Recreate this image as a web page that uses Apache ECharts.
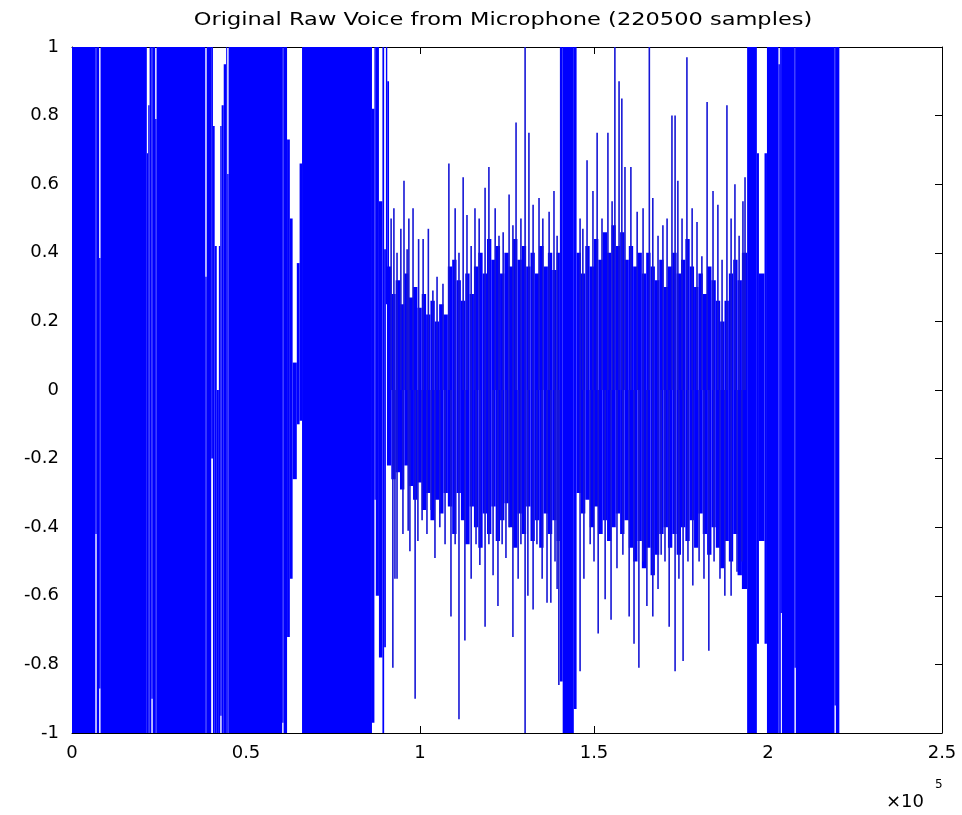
<!DOCTYPE html>
<html lang="en">
<head>
    <meta charset="UTF-8">
    <title>raw voice</title>
    <script src="https://cdn.jsdelivr.net/npm/echarts@6/dist/echarts.min.js"></script>
    <style>
        html, body { margin: 0; padding: 0; background: #fff; }
        #box { width: 962px; height: 815px; }
    </style>
</head>
<body>
    <div id="box"></div>
    <script>
        var xTickLabels = ['0', '0.5', '1', '1.5', '2', '2.5'];
        var yTickLabels = ['-1', '-0.8', '-0.6', '-0.4', '-0.2', '0', '0.2', '0.4', '0.6', '0.8', '1'];

        // loud parts: [fromSample, toSample, low, high]
        var blocks = [
            [0, 6700, -1, 1], [6700, 7100, -0.42, 1], [7100, 7800, -1, 1], [7800, 8200, -0.87, 0.385],
            [8200, 21500, -1, 1], [21500, 21900, -1, 0.69], [21900, 22300, -1, 0.83], [22300, 22800, -1, 1],
            [22800, 23200, -0.90, 1], [23200, 23900, -1, 1], [23900, 24300, -1, 0.79], [24300, 38300, -1, 1],
            [38300, 38700, -1, 0.33], [38700, 40000, -1, 1], [40000, 40500, -0.20, 1], [40500, 41000, -1, 0.77],
            [41000, 41600, -1, 0.42], [41600, 42200, -1, 0.0], [42200, 42600, -1, 0.42], [42600, 43000, -0.95, 0.77],
            [43000, 43600, -1, 0.83], [43600, 44300, -1, 0.95], [44300, 44600, -1, 1], [44600, 45000, -1, 0.63],
            [45000, 60400, -1, 1], [60400, 60800, -0.97, 1], [60800, 61800, -1, 1],
            [61800, 62600, -0.72, 0.73], [62600, 63400, -0.55, 0.50], [63400, 64600, -0.26, 0.08],
            [64600, 65400, -0.10, 0.37], [65400, 66100, -0.09, 0.66],
            [66100, 86200, -1, 1], [86200, 86900, -0.97, 0.82], [86900, 87300, -0.32, 1], [87300, 88200, -0.6, 1],
            [88200, 89200, -0.78, 0.55], [89200, 89700, -1, 1], [89700, 90200, -0.75, 0.41],
            [90200, 90600, 0.25, 1], [90600, 91100, -0.18, 0.9],
            [140200, 141000, -0.85, 1], [141000, 144200, -1, 1], [144200, 145000, -0.93, 1],
            [194000, 196800, -1, 1], [196800, 197400, -0.74, 0.69], [197400, 199000, -0.44, 0.34],
            [199000, 199700, -0.74, 0.69], [199700, 203000, -1, 1], [203000, 203400, -1, 0.95],
            [203400, 203600, -1, 1], [203600, 204000, -0.65, 1], [204000, 207600, -1, 1],
            [207600, 208000, -0.81, 1], [208000, 219100, -1, 1], [219100, 219500, -0.92, 1], [219500, 220500, -1, 1]
        ];

        // quiet parts: solid middle band, one step every 1250 samples (null = loud part)
        var coreX = [
            90500, 91750, 93000, 94250, 95500, 96750, 98000, 99250, 100500, 101750,
            103000, 104250, 105500, 106750, 108000, 109250, 110500, 111750, 113000, 114250,
            115500, 116750, 118000, 119250, 120500, 121750, 123000, 124250, 125500, 126750,
            128000, 129250, 130500, 131750, 133000, 134250, 135500, 136750, 138000, 139250, 140200,
            145000, 146250, 147500, 148750, 150000, 151250, 152500, 153750, 155000, 156250,
            157500, 158750, 160000, 161250, 162500, 163750, 165000, 166250, 167500, 168750,
            170000, 171250, 172500, 173750, 175000, 176250, 177500, 178750, 180000, 181250,
            182500, 183750, 185000, 186250, 187500, 188750, 190000, 191250, 192500, 194000
        ];
        var coreHi = [
            0.36, 0.28, 0.32, 0.25, 0.34, 0.27, 0.30, 0.24, 0.28, 0.22,
            0.26, 0.20, 0.25, 0.22, 0.36, 0.38, 0.32, 0.26, 0.34, 0.28,
            0.36, 0.40, 0.34, 0.44, 0.38, 0.42, 0.34, 0.40, 0.36, 0.44,
            0.38, 0.42, 0.36, 0.40, 0.34, 0.42, 0.36, 0.40, 0.35, 0.40, null,
            0.40, 0.34, 0.42, 0.36, 0.44, 0.38, 0.46, 0.40, 0.48, 0.42,
            0.46, 0.38, 0.42, 0.36, 0.40, 0.34, 0.40, 0.36, 0.32, 0.38,
            0.30, 0.36, 0.40, 0.34, 0.38, 0.44, 0.36, 0.30, 0.34, 0.28,
            0.36, 0.32, 0.26, 0.20, 0.26, 0.34, 0.38, 0.32, 0.40, null
        ];
        var coreLo = [
            -0.22, -0.26, -0.24, -0.29, -0.22, -0.28, -0.32, -0.27, -0.35, -0.30,
            -0.38, -0.32, -0.36, -0.30, -0.34, -0.42, -0.30, -0.38, -0.45, -0.34,
            -0.40, -0.46, -0.36, -0.42, -0.34, -0.44, -0.38, -0.33, -0.40, -0.46,
            -0.36, -0.42, -0.34, -0.44, -0.38, -0.46, -0.36, -0.42, -0.38, -0.44, null,
            -0.30, -0.36, -0.32, -0.40, -0.34, -0.42, -0.38, -0.44, -0.40, -0.36,
            -0.42, -0.38, -0.46, -0.50, -0.44, -0.52, -0.46, -0.54, -0.48, -0.42,
            -0.40, -0.46, -0.42, -0.48, -0.40, -0.44, -0.38, -0.46, -0.36, -0.42,
            -0.48, -0.40, -0.46, -0.52, -0.44, -0.50, -0.42, -0.54, -0.58, null
        ];

        // quiet parts: single peaks above and below zero [sample, value]
        var peaksUp = [
            [91700, 0.50], [92500, 0.53], [93400, 0.40], [94500, 0.47], [95400, 0.61], [96300, 0.41],
            [96800, 0.50], [98000, 0.53], [99600, 0.44], [100900, 0.44], [102400, 0.47], [103700, 0.29],
            [104900, 0.33], [106600, 0.31], [108300, 0.66], [110100, 0.53], [111200, 0.40], [112400, 0.62],
            [113500, 0.51], [114700, 0.42], [115800, 0.53], [117000, 0.50], [118700, 0.59], [119800, 0.65],
            [121600, 0.53], [122700, 0.45], [123900, 0.46], [125600, 0.57], [126700, 0.48], [127600, 0.78],
            [129000, 0.50], [130200, 1.0], [131300, 0.75], [132500, 0.54], [134200, 0.56], [135300, 0.50],
            [137100, 0.52], [138500, 0.58], [139400, 0.45],
            [146000, 0.50], [146800, 0.47], [148000, 0.67], [149700, 0.58], [150900, 0.75], [152300, 0.50],
            [154000, 0.75], [155200, 0.55], [156000, 1.0], [157200, 0.90], [158000, 0.85], [158900, 0.65],
            [160600, 0.65], [162400, 0.52], [164100, 0.53], [165900, 1.0], [166900, 0.56], [168400, 0.45],
            [169800, 0.48], [171000, 0.50], [172400, 0.80], [173300, 0.80], [174100, 0.61], [175300, 0.50],
            [176700, 0.97], [178200, 0.53], [179600, 0.49], [181000, 0.39], [182500, 0.84], [184200, 0.58],
            [185600, 0.54], [186800, 0.38], [188200, 0.83], [189400, 0.50], [190500, 0.60], [191700, 0.45],
            [192800, 0.55], [193400, 0.62]
        ];
        var peaksDown = [
            [92200, -0.81], [92800, -0.55], [93400, -0.55], [95100, -0.42], [96600, -0.41], [97100, -0.47],
            [98600, -0.90], [99400, -0.44], [100600, -0.38], [102000, -0.42], [103200, -0.35], [104300, -0.49],
            [105700, -0.40], [107200, -0.45], [108900, -0.66], [110100, -0.45], [111200, -0.96], [112900, -0.73],
            [114700, -0.55], [116100, -0.45], [117200, -0.51], [118700, -0.69], [119800, -0.45], [121000, -0.54],
            [122400, -0.63], [123600, -0.45], [124700, -0.49], [125600, -0.40], [126700, -0.72], [128200, -0.55],
            [129000, -0.45], [130200, -1.0], [131000, -0.60], [132500, -0.64], [133600, -0.45], [135100, -0.55],
            [136500, -0.62], [137600, -0.62], [138800, -0.50], [139400, -0.58], [139900, -0.86],
            [146000, -0.82], [147100, -0.55], [148900, -0.45], [150000, -0.50], [151200, -0.71], [153200, -0.61],
            [154900, -0.67], [156600, -0.52], [158300, -0.48], [160100, -0.66], [161500, -0.74], [162900, -0.81],
            [164100, -0.50], [165200, -0.63], [166900, -0.66], [168400, -0.58], [169300, -0.48], [170400, -0.50],
            [171600, -0.69], [173300, -0.82], [174400, -0.55], [175600, -0.79], [177000, -0.50], [178400, -0.57],
            [180200, -0.50], [181600, -0.55], [183000, -0.76], [184500, -0.50], [186200, -0.55], [187600, -0.60],
            [189400, -0.60], [191100, -0.53], [192500, -0.50]
        ];

        var blue = '#0000ff';
        var lineBlue = '#1616d6';

        var coreSpans = [];
        for (var i = 0; i < coreX.length - 1; i++) {
            if (coreHi[i] == null) continue;
            coreSpans.push([coreX[i], coreX[i + 1], coreLo[i], coreHi[i]]);
        }
        var peaks = [];
        peaksUp.forEach(function (p) { peaks.push([p[0], 0, p[1]]); });
        peaksDown.forEach(function (p) { peaks.push([p[0], p[1], 0]); });

        function renderSpan(params, api) {
            var a = api.coord([api.value(0), api.value(3)]);
            var b = api.coord([api.value(1), api.value(2)]);
            return {
                type: 'rect',
                shape: { x: a[0], y: a[1], width: Math.max(b[0] - a[0], 1), height: b[1] - a[1] },
                style: { fill: blue }
            };
        }
        function renderPeak(params, api) {
            var top = api.coord([api.value(0), api.value(2)]);
            var bot = api.coord([api.value(0), api.value(1)]);
            return {
                type: 'rect',
                shape: { x: top[0] - 0.8, y: top[1], width: 1.6, height: bot[1] - top[1] },
                style: { fill: lineBlue }
            };
        }

        var font = 'DejaVu Sans';
        function axisStyle(extra) {
            return Object.assign({
                axisLine: { show: true, onZero: false, lineStyle: { color: '#000', width: 1 } },
                axisTick: { show: true, inside: true, length: 7, lineStyle: { color: '#000' } },
                splitLine: { show: false }
            }, extra);
        }

        var myChart = echarts.init(document.getElementById('box'));
        var option = {
            animation: false,
            backgroundColor: '#fff',
            grid: { left: 72, right: 20, top: 47, bottom: 82 },
            xAxis: [
                axisStyle({
                    type: 'value', min: 0, max: 250000, interval: 50000, position: 'bottom',
                    axisLabel: {
                        fontFamily: font, fontSize: 18, color: '#000', margin: 11,
                        formatter: function (v) { return xTickLabels[Math.round(v / 50000)]; }
                    }
                }),
                axisStyle({
                    type: 'value', min: 0, max: 250000, interval: 50000, position: 'top',
                    axisLabel: { show: false }
                })
            ],
            yAxis: [
                axisStyle({
                    type: 'value', min: -1, max: 1, interval: 0.2, position: 'left',
                    axisLabel: {
                        fontFamily: font, fontSize: 18, color: '#000', margin: 13,
                        formatter: function (v) { return yTickLabels[Math.round((v + 1) / 0.2)]; }
                    }
                }),
                axisStyle({
                    type: 'value', min: -1, max: 1, interval: 0.2, position: 'right',
                    axisLabel: { show: false }
                })
            ],
            graphic: [
                {
                    type: 'text', x: 503, y: 11, scaleX: 1.25,
                    style: {
                        text: 'Original Raw Voice from Microphone (220500 samples)',
                        fontFamily: font, fontSize: 18, fill: '#000', align: 'center', verticalAlign: 'top'
                    }
                },
                {
                    type: 'text', x: 886, y: 793,
                    style: { text: '×10', fontFamily: font, fontSize: 18, fill: '#000', verticalAlign: 'top' }
                },
                {
                    type: 'text', x: 935, y: 779,
                    style: { text: '5', fontFamily: font, fontSize: 12, fill: '#000', verticalAlign: 'top' }
                }
            ],
            series: [
                { type: 'custom', renderItem: renderSpan, data: blocks, encode: { x: [0, 1], y: [2, 3] } },
                { type: 'custom', renderItem: renderSpan, data: coreSpans, encode: { x: [0, 1], y: [2, 3] } },
                { type: 'custom', renderItem: renderPeak, data: peaks, encode: { x: 0, y: [1, 2] } }
            ]
        };
        myChart.setOption(option);
    </script>
</body>
</html>
